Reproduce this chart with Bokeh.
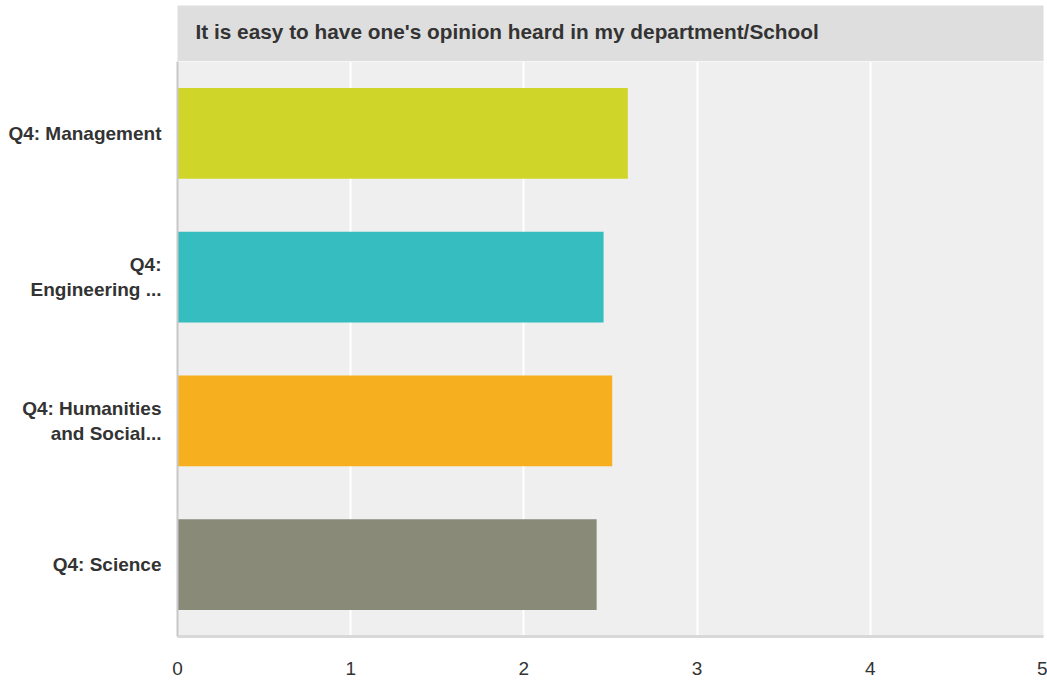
from bokeh.plotting import figure
from bokeh.models import Range1d, FactorRange, ColumnDataSource, Label, FixedTicker
from bokeh.layouts import column
from bokeh.embed import file_html
from bokeh.resources import INLINE

title_text = "It is easy to have one's opinion heard in my department/School"
categories = ["Q4: Management", "Q4:\nEngineering ...", "Q4: Humanities\nand Social...", "Q4: Science"]
values = [2.60, 2.46, 2.51, 2.42]
colors = ["#d0d52a", "#35bdbf", "#f6af1f", "#898a78"]
x_ticks = [0, 1, 2, 3, 4, 5]

FONT = "Liberation Sans"

# Title band
band = figure(width=1047, height=61, x_range=Range1d(0, 5), y_range=Range1d(0, 1),
              output_backend="svg", toolbar_location=None,
              min_border_left=175, min_border_right=4, min_border_top=5, min_border_bottom=0)
band.axis.visible = False
band.grid.visible = False
band.outline_line_color = None
band.background_fill_color = "#dedede"
band.border_fill_color = "white"
band.add_layout(Label(x=0, y=0.5, x_offset=18, y_offset=2, text=title_text, text_baseline="middle",
                      text_font=FONT, text_font_style="bold", text_font_size="20.8px",
                      text_color="#333333"))

# Main chart
source = ColumnDataSource(dict(cat=categories, val=values, color=colors))
p = figure(width=1047, height=620, x_range=Range1d(0, 5),
           y_range=FactorRange(factors=categories[::-1]),
           output_backend="svg", toolbar_location=None,
           min_border_left=177, min_border_right=4, min_border_top=0, min_border_bottom=45)
p.hbar(y="cat", right="val", left=0, height=0.633, color="color", line_color=None, source=source)

p.background_fill_color = "#efefef"
p.border_fill_color = "white"
p.outline_line_color = None

p.xgrid.ticker = FixedTicker(ticks=x_ticks)
p.xgrid.grid_line_color = "white"
p.xgrid.grid_line_width = 2
p.ygrid.visible = False

p.xaxis.ticker = FixedTicker(ticks=x_ticks)
p.xaxis.axis_line_color = "#d8d8d8"
p.xaxis.axis_line_width = 3
p.xaxis.major_tick_line_color = None
p.xaxis.minor_tick_line_color = None
p.xaxis.major_label_standoff = 19
p.xaxis.major_label_text_font = FONT
p.xaxis.major_label_text_font_size = "19px"
p.xaxis.major_label_text_color = "#333333"

p.yaxis.axis_line_color = "#c8c8c8"
p.yaxis.axis_line_width = 2
p.yaxis.major_tick_line_color = None
p.yaxis.minor_tick_line_color = None
p.yaxis.major_label_standoff = 10
p.yaxis.major_label_text_font = FONT
p.yaxis.major_label_text_font_style = "bold"
p.yaxis.major_label_text_font_size = "19px"
p.yaxis.major_label_text_color = "#333333"

layout = column(band, p, spacing=0)

open("out.html", "w").write(file_html(layout, INLINE))
